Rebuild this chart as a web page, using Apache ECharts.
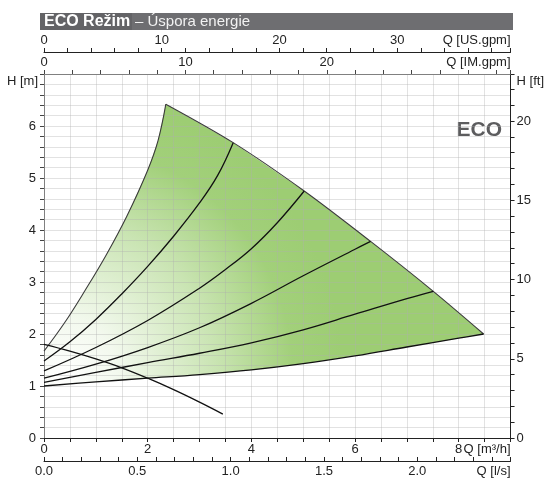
<!DOCTYPE html>
<html><head><meta charset="utf-8">
<script src="https://cdn.jsdelivr.net/npm/echarts@6/dist/echarts.min.js"></script>
<style>html,body{margin:0;padding:0;background:#fff}#c{width:547px;height:478px}</style>
</head><body><div id="c"></div>
<script>
// Q [m3/h], H [m]
const leftEdge = [[0,1.67],[0.4,2.22],[0.8,2.85],[1.2,3.52],[1.6,4.27],[2.0,5.15],[2.2,5.72],[2.35,6.42]];
const topEdge = [[2.35,6.42],[3.65,5.68],[5.02,4.75],[6.30,3.78],[7.51,2.82],[8.48,2.00]];
const bottomEdge = [[0,1.0],[1,1.08],[2,1.15],[3,1.22],[4,1.31],[5,1.43],[6,1.58],[7,1.75],[8,1.92],[8.48,2.0]];
const curve1 = [[0,1.48],[0.5,1.85],[1.0,2.28],[1.5,2.77],[2.0,3.30],[2.5,3.88],[3.0,4.52],[3.35,5.05],[3.65,5.68]];
const curve2 = [[0,1.29],[1.0,1.74],[2.0,2.26],[3.0,2.88],[3.5,3.24],[4.0,3.64],[4.5,4.14],[5.02,4.75]];
const curve3 = [[0,1.15],[1.0,1.42],[2.0,1.74],[3.0,2.12],[4.0,2.59],[5.0,3.12],[6.0,3.63],[6.30,3.78]];
const curve4 = [[0,1.07],[1.0,1.26],[2.0,1.45],[3.0,1.63],[4.0,1.83],[5.0,2.08],[6.0,2.38],[7.0,2.68],[7.51,2.82]];
const systemCurve = [[0,1.8],[0.5,1.67],[1.0,1.52],[1.5,1.35],[2.0,1.15],[2.5,0.93],[3.0,0.69],[3.45,0.46]];

const titleBold = 'ECO Režim';
const titleRest = '– Úspora energie';
const modeLabel = 'ECO';
const nameQm3 = 'Q [m³/h]', nameQls = 'Q [l/s]', nameUS = 'Q [US.gpm]', nameIM = 'Q [IM.gpm]';
const nameHm = 'H [m]', nameHft = 'H [ft]';

const Q_MAX = 9, H_MAX = 7;
const US_PER_M3H = 4.402868, IM_PER_M3H = 3.666154, LS_PER_M3H = 1/3.6, FT_PER_M = 3.28084;

const FONT = "'Liberation Sans', Arial, sans-serif";
const TXT = '#222';
const GRIDC = 'rgba(175,175,175,0.36)';
const near = (v, s) => Math.abs(v / s - Math.round(v / s)) < 1e-6;

const chart = echarts.init(document.getElementById('c'), null, {renderer: 'canvas'});

function lineSeries(data, color, width, smooth) {
  return {type: 'line', data, smooth: smooth, symbol: 'none', silent: true,
    xAxisIndex: 0, yAxisIndex: 0, lineStyle: {color, width}, z: 3};
}
const nameStyle = (align, vAlign, padding) => ({align, verticalAlign: vAlign, padding, fontSize: 13, color: TXT, fontFamily: FONT});

chart.setOption({
  animation: false,
  textStyle: {fontFamily: FONT},
  grid: {left: 44, right: 35, top: 74, bottom: 39, containLabel: false},
  graphic: [
    {type: 'rect', shape: {x: 40, y: 13, width: 473, height: 17}, style: {fill: '#6e6e71'}},
    {type: 'rect', shape: {x: 40, y: 13, width: 92, height: 17}, style: {fill: '#636366'}},
    {type: 'text', x: 44, y: 22, style: {text: titleBold, fill: '#fff', font: "bold 16px " + FONT, verticalAlign: 'middle'}},
    {type: 'text', x: 135, y: 22, style: {text: titleRest, fill: '#f2f2f2', font: "15px " + FONT, verticalAlign: 'middle'}},
    {type: 'text', x: 502, y: 130, style: {text: modeLabel, fill: '#5c5c5e', font: "bold 21px " + FONT, align: 'right', verticalAlign: 'middle'}}
  ],
  xAxis: [
    {type: 'value', position: 'bottom', min: 0, max: Q_MAX, interval: 0.5,
      axisLine: {show: true, lineStyle: {color: '#222'}},
      axisTick: {show: true, length: 4, lineStyle: {color: '#222'}},
      axisLabel: {margin: 5, fontSize: 13, color: TXT, formatter: v => (near(v, 2) && v < 8.5) ? String(Math.round(v)) : ''},
      splitLine: {show: true, lineStyle: {color: GRIDC, width: 1}},
      name: nameQm3, nameLocation: 'end', nameGap: 0, nameMoveOverlap: false,
      nameTextStyle: nameStyle('right', 'top', [5, 0, 0, 0])},
    {type: 'value', position: 'bottom', offset: 23, min: 0, max: Q_MAX * LS_PER_M3H, interval: 0.1,
      axisLine: {show: true, onZero: false, lineStyle: {color: '#222'}},
      axisTick: {show: true, inside: true, length: 4, lineStyle: {color: '#222'}},
      axisLabel: {margin: 4, fontSize: 13, color: TXT, formatter: v => (near(v, 0.5) && v < 2.3) ? v.toFixed(1) : ''},
      splitLine: {show: false},
      name: nameQls, nameLocation: 'end', nameGap: 0, nameMoveOverlap: false,
      nameTextStyle: nameStyle('right', 'top', [4, 0, 0, 0])},
    {type: 'value', position: 'top', offset: 22, min: 0, max: Q_MAX * US_PER_M3H, interval: 2,
      axisLine: {show: true, onZero: false, lineStyle: {color: '#222'}},
      axisTick: {show: true, length: 4, lineStyle: {color: '#222'}},
      axisLabel: {margin: 5, fontSize: 13, color: TXT, formatter: v => (near(v, 10) && v < 35) ? String(Math.round(v)) : ''},
      splitLine: {show: false},
      name: nameUS, nameLocation: 'end', nameGap: 0, nameMoveOverlap: false,
      nameTextStyle: nameStyle('right', 'bottom', [0, 0, 5, 0])},
    {type: 'value', position: 'top', offset: 0, min: 0, max: Q_MAX * IM_PER_M3H, interval: 2,
      axisLine: {show: true, onZero: false, lineStyle: {color: '#808080'}},
      axisTick: {show: true, length: 4, lineStyle: {color: '#444'}},
      axisLabel: {margin: 5, fontSize: 13, color: TXT, formatter: v => (near(v, 10) && v < 25) ? String(Math.round(v)) : ''},
      splitLine: {show: false},
      name: nameIM, nameLocation: 'end', nameGap: 0, nameMoveOverlap: false,
      nameTextStyle: nameStyle('right', 'bottom', [0, 0, 5, 0])}
  ],
  yAxis: [
    {type: 'value', position: 'left', min: 0, max: H_MAX, interval: 0.2,
      axisLine: {show: true, onZero: false, lineStyle: {color: '#808080'}},
      axisTick: {show: true, length: 4, lineStyle: {color: '#444'}},
      axisLabel: {margin: 8, fontSize: 13, color: TXT, formatter: v => (near(v, 1) && v < 6.5) ? String(Math.round(v)) : ''},
      splitLine: {show: true, lineStyle: {color: GRIDC, width: 1}},
      name: nameHm, nameLocation: 'end', nameGap: 0, nameMoveOverlap: false,
      nameTextStyle: nameStyle('right', 'top', [1, 6, 0, 0])},
    {type: 'value', position: 'right', min: 0, max: H_MAX * FT_PER_M, interval: 1,
      axisLine: {show: true, onZero: false, lineStyle: {color: '#222'}},
      axisTick: {show: true, length: 4, lineStyle: {color: '#222'}},
      axisLabel: {margin: 6, fontSize: 13, color: TXT, formatter: v => (near(v, 5) && v < 22) ? String(Math.round(v)) : ''},
      splitLine: {show: false},
      name: nameHft, nameLocation: 'end', nameGap: 0, nameMoveOverlap: false,
      nameTextStyle: nameStyle('left', 'top', [1, 0, 0, 6])}
  ],
  series: [
    {type: 'custom', z: -1, silent: true, xAxisIndex: 0, yAxisIndex: 0, data: [[0, 0]],
      renderItem: (params, api) => {
        const ring = leftEdge.concat(topEdge.slice(1), bottomEdge.slice().reverse().slice(1));
        return {type: 'polygon', shape: {points: ring.map(p => api.coord(p))},
          style: {fill: new echarts.graphic.RadialGradient(0.04, 0.96, 1.0, [
            {offset: 0, color: '#ffffff'},
            {offset: 0.2, color: '#f3f9ee'},
            {offset: 0.55, color: '#c9e4b2'},
            {offset: 0.82, color: '#a2d07a'},
            {offset: 1, color: '#9dcd73'}
          ])}};
      }},
    lineSeries(leftEdge, '#3c3c3c', 1.1, 0.4),
    lineSeries(topEdge, '#3c3c3c', 1.1, 0.3),
    lineSeries(bottomEdge, '#111', 1.3, 0.4),
    lineSeries(curve1, '#111', 1.3, 0.4),
    lineSeries(curve2, '#111', 1.3, 0.4),
    lineSeries(curve3, '#111', 1.3, 0.4),
    lineSeries(curve4, '#111', 1.3, 0.4),
    lineSeries(systemCurve, '#111', 1.3, 0.4)
  ]
});
</script></body></html>
